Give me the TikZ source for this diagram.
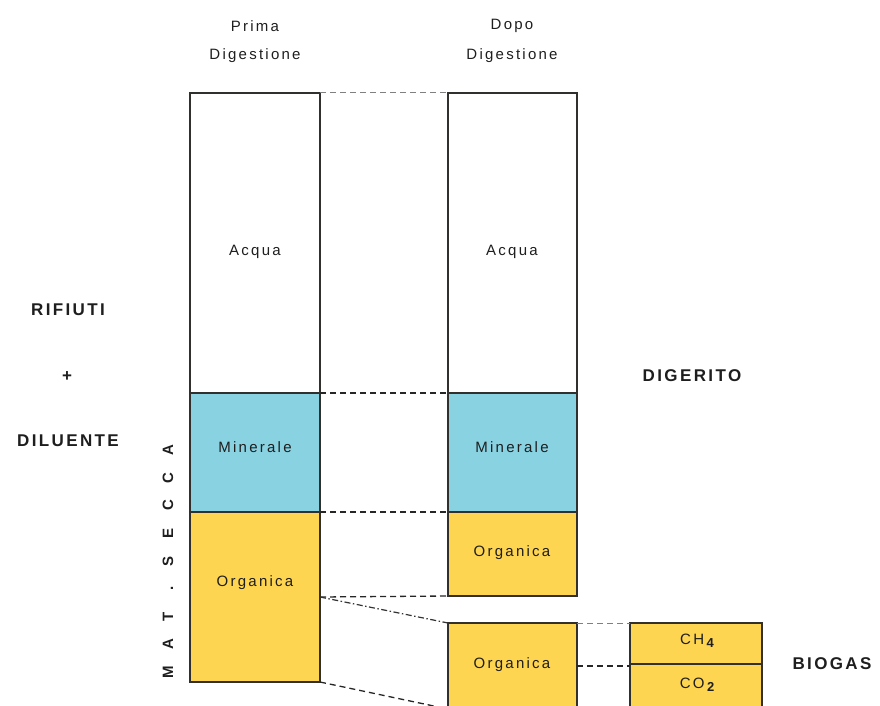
\documentclass[tikz,border=0pt]{standalone}
\usepackage{fontspec}
\setmainfont{Liberation Sans}
\definecolor{minblue}{RGB}{136,210,226}
\definecolor{orgyellow}{RGB}{254,213,80}
\definecolor{edgecol}{RGB}{50,48,44}
\definecolor{txtcol}{RGB}{30,30,30}
\newcommand\mslot[1]{\makebox[27.8pt]{#1}}
\newcommand\gassub[1]{\,\raisebox{-3.5pt}{\addfontfeature{LetterSpace=0}\fontsize{13}{13}\selectfont\bfseries #1}}
\begin{document}
\begin{tikzpicture}[x=1pt,y=-1pt,
  box/.style={draw=edgecol,line width=1.1pt,inner sep=0pt,outer sep=0pt,anchor=north west},
  sm/.style={font=\fontsize{15}{17}\selectfont\addfontfeature{LetterSpace=15},text=txtcol},
  big/.style={font=\fontsize{17}{20}\selectfont\bfseries\addfontfeature{LetterSpace=14},text=txtcol},
  link/.style={draw=black!85,line width=1.3pt,dash pattern=on 6pt off 4pt},
  lightlink/.style={draw=black!50,line width=1pt,dash pattern=on 6pt off 4pt},
  dotlink/.style={draw=black!80,line width=1.2pt,dash pattern=on 6pt off 2.5pt on 1.5pt off 2.5pt}
]
\useasboundingbox (0,0) rectangle (880,706);
\clip (0,0) rectangle (880,706);

% left column (before digestion)
\node[box,fill=white,minimum width=130,minimum height=300] (acqL) at (190,93) {};
\node[box,fill=minblue,minimum width=130,minimum height=119] (minL) at (190,393) {};
\node[box,fill=orgyellow,minimum width=130,minimum height=170] (orgL) at (190,512) {};
% right column (after digestion)
\node[box,fill=white,minimum width=129,minimum height=300] (acqR) at (448,93) {};
\node[box,fill=minblue,minimum width=129,minimum height=119] (minR) at (448,393) {};
\node[box,fill=orgyellow,minimum width=129,minimum height=84] (orgR) at (448,512) {};
\node[box,fill=orgyellow,minimum width=129,minimum height=86] (orgB) at (448,623) {};
% biogas
\node[box,fill=orgyellow,minimum width=132,minimum height=41] (ch4) at (630,623) {};
\node[box,fill=orgyellow,minimum width=132,minimum height=44] (co2) at (630,664) {};

% connectors
\draw[lightlink] (acqL.north east) -- (acqR.north west);
\draw[link] (minL.north east) -- (minR.north west);
\draw[link] (orgL.north east) -- (orgR.north west);
\draw[link] (orgL.east) -- (orgR.south west);
\draw[dotlink] (orgL.east) -- (orgB.north west);
\draw[link] (orgL.south east) -- (orgB.south west);
\draw[lightlink] (orgB.north east) -- (ch4.north west);
\draw[link] (orgB.east) -- (orgB.east -| ch4.west);

% texts
\node[sm] (tPrima) at (255,26) {Prima};
\node[sm] (tDigL) at (255,56) {Digestione};
\node[sm] (tDopo) at (512,26) {Dopo};
\node[sm] (tDigR) at (512,56) {Digestione};
\node[sm] (tAcqL) at (255,252) {Acqua};
\node[sm] (tAcqR) at (512,252) {Acqua};
\node[sm] (tMinL) at (255,447) {Minerale};
\node[sm] (tMinR) at (512,447) {Minerale};
\node[sm] (tOrgL) at (255,583) {Organica};
\node[sm] (tOrgR) at (512,553) {Organica};
\node[sm] (tOrgB) at (512,665) {Organica};
\node[sm] (tCH4) at (697,641) {CH\gassub{4}};
\node[sm] (tCO2) at (697,685) {CO\gassub{2}};

\node[big] (tRif) at (68,310) {RIFIUTI};
\node[big] (tPlus) at (67,377) {+};
\node[big] (tDil) at (68,441) {DILUENTE};
\node[big] (tDig) at (692,376) {DIGERITO};
\node[big] (tBio) at (832,664) {BIOGAS};

\node[rotate=90,inner sep=0pt,text=txtcol,font=\fontsize{15}{17}\selectfont\bfseries] (tMat) at (168,561)
  {\mslot{M}\mslot{A}\mslot{T}\mslot{.}\mslot{S}\mslot{E}\mslot{C}\mslot{C}\mslot{A}};
\end{tikzpicture}
\end{document}
